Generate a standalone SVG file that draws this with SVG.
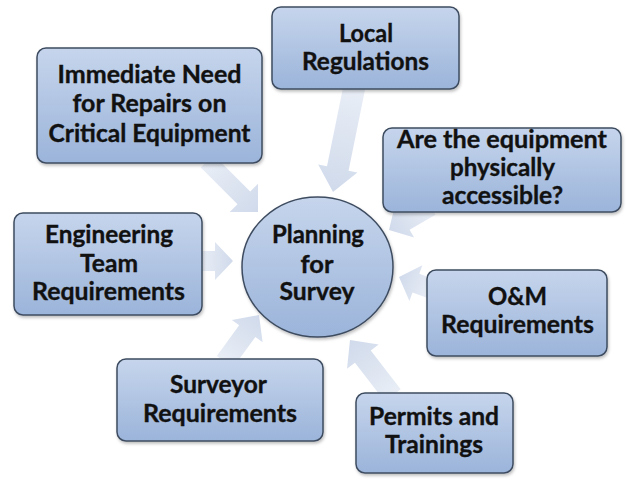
<svg xmlns="http://www.w3.org/2000/svg" width="635" height="480" viewBox="0 0 635 480">
<defs>
<linearGradient id="boxg" x1="0" y1="0" x2="0" y2="1">
<stop offset="0" stop-color="#c6d5ec"/>
<stop offset="1" stop-color="#9bb4da"/>
</linearGradient>
<linearGradient id="arrg" x1="0" y1="0" x2="1" y2="0">
<stop offset="0" stop-color="#e9eef6"/>
<stop offset="1" stop-color="#d0daeb"/>
</linearGradient>
<filter id="sh" x="-10%" y="-10%" width="125%" height="130%">
<feDropShadow dx="1" dy="2" stdDeviation="1.5" flood-color="#000" flood-opacity="0.25"/>
</filter>
</defs>
<style>
.box{fill:url(#boxg);stroke:#3e4c60;stroke-width:1.5;filter:url(#sh)}
.arr{fill:url(#arrg);stroke:none}
text{font-family:Lato,"Open Sans","Liberation Sans",sans-serif;font-weight:700;font-size:24px;fill:#111;stroke:#111;stroke-width:0.35;text-anchor:middle}
</style>
<rect width="635" height="480" fill="#fff"/>
<g id="connectors">
<polygon class="arr" transform="translate(258,212) rotate(45)" points="-72,-9 -20,-9 -20,-20 0,0 -20,20 -20,9 -72,9"/>
<polygon class="arr" transform="translate(333,192) rotate(101.5)" points="-108,-11 -24,-11 -24,-20 0,0 -24,20 -24,11 -108,11"/>
<polygon class="arr" transform="translate(389,230) rotate(150)" points="-48,-10 -18,-10 -18,-19 0,0 -18,19 -18,10 -48,10"/>
<polygon class="arr" transform="translate(233,261) rotate(0)" points="-32,-10 -18,-10 -18,-19 0,0 -18,19 -18,10 -32,10"/>
<polygon class="arr" transform="translate(259,315) rotate(-54)" points="-58,-10 -20,-10 -20,-19 0,0 -20,19 -20,10 -58,10"/>
<polygon class="arr" transform="translate(350,340) rotate(-127.7)" points="-70,-10 -21,-10 -21,-20 0,0 -21,20 -21,10 -70,10"/>
<polygon class="arr" transform="translate(399,277) rotate(200)" points="-34,-10 -18,-10 -18,-19 0,0 -18,19 -18,10 -34,10"/>
</g>
<g id="center">
<ellipse class="box" cx="317.5" cy="267" rx="75.5" ry="70"/>
<text x="318" y="243" textLength="92" lengthAdjust="spacingAndGlyphs">Planning</text>
<text x="317" y="273" textLength="33" lengthAdjust="spacingAndGlyphs">for</text>
<text x="317" y="300" textLength="75" lengthAdjust="spacingAndGlyphs">Survey</text>
</g>
<g id="immediate">
<rect class="box" x="37" y="48" width="225" height="115" rx="9"/>
<text x="149.5" y="83" textLength="184" lengthAdjust="spacingAndGlyphs">Immediate Need</text>
<text x="149.5" y="112" textLength="154" lengthAdjust="spacingAndGlyphs">for Repairs on</text>
<text x="149.5" y="142" textLength="202" lengthAdjust="spacingAndGlyphs">Critical Equipment</text>
</g>
<g id="local">
<rect class="box" x="272" y="7" width="187" height="82" rx="9"/>
<text x="366" y="42" textLength="54" lengthAdjust="spacingAndGlyphs">Local</text>
<text x="365.5" y="70" textLength="127" lengthAdjust="spacingAndGlyphs">Regulations</text>
</g>
<g id="access">
<rect class="box" x="383" y="128" width="238" height="84" rx="9"/>
<text x="502" y="148" textLength="210" lengthAdjust="spacingAndGlyphs">Are the equipment</text>
<text x="502.5" y="176" textLength="105" lengthAdjust="spacingAndGlyphs">physically</text>
<text x="502.5" y="204" textLength="121" lengthAdjust="spacingAndGlyphs">accessible?</text>
</g>
<g id="engineering">
<rect class="box" x="14" y="213" width="188" height="102" rx="9"/>
<text x="109" y="243" textLength="128" lengthAdjust="spacingAndGlyphs">Engineering</text>
<text x="109" y="272" textLength="58" lengthAdjust="spacingAndGlyphs">Team</text>
<text x="108.5" y="300" textLength="153" lengthAdjust="spacingAndGlyphs">Requirements</text>
</g>
<g id="om">
<rect class="box" x="427" y="270" width="180" height="86" rx="9"/>
<text x="517.5" y="305" textLength="59" lengthAdjust="spacingAndGlyphs">O&amp;M</text>
<text x="517.5" y="333" textLength="153" lengthAdjust="spacingAndGlyphs">Requirements</text>
</g>
<g id="permits">
<rect class="box" x="356" y="393" width="157" height="80" rx="9"/>
<text x="434" y="425" textLength="130" lengthAdjust="spacingAndGlyphs">Permits and</text>
<text x="434" y="453" textLength="98" lengthAdjust="spacingAndGlyphs">Trainings</text>
</g>
<g id="surveyor">
<rect class="box" x="117" y="359" width="206" height="82" rx="9"/>
<text x="218.5" y="393" textLength="97" lengthAdjust="spacingAndGlyphs">Surveyor</text>
<text x="220" y="422" textLength="154" lengthAdjust="spacingAndGlyphs">Requirements</text>
</g>
</svg>
